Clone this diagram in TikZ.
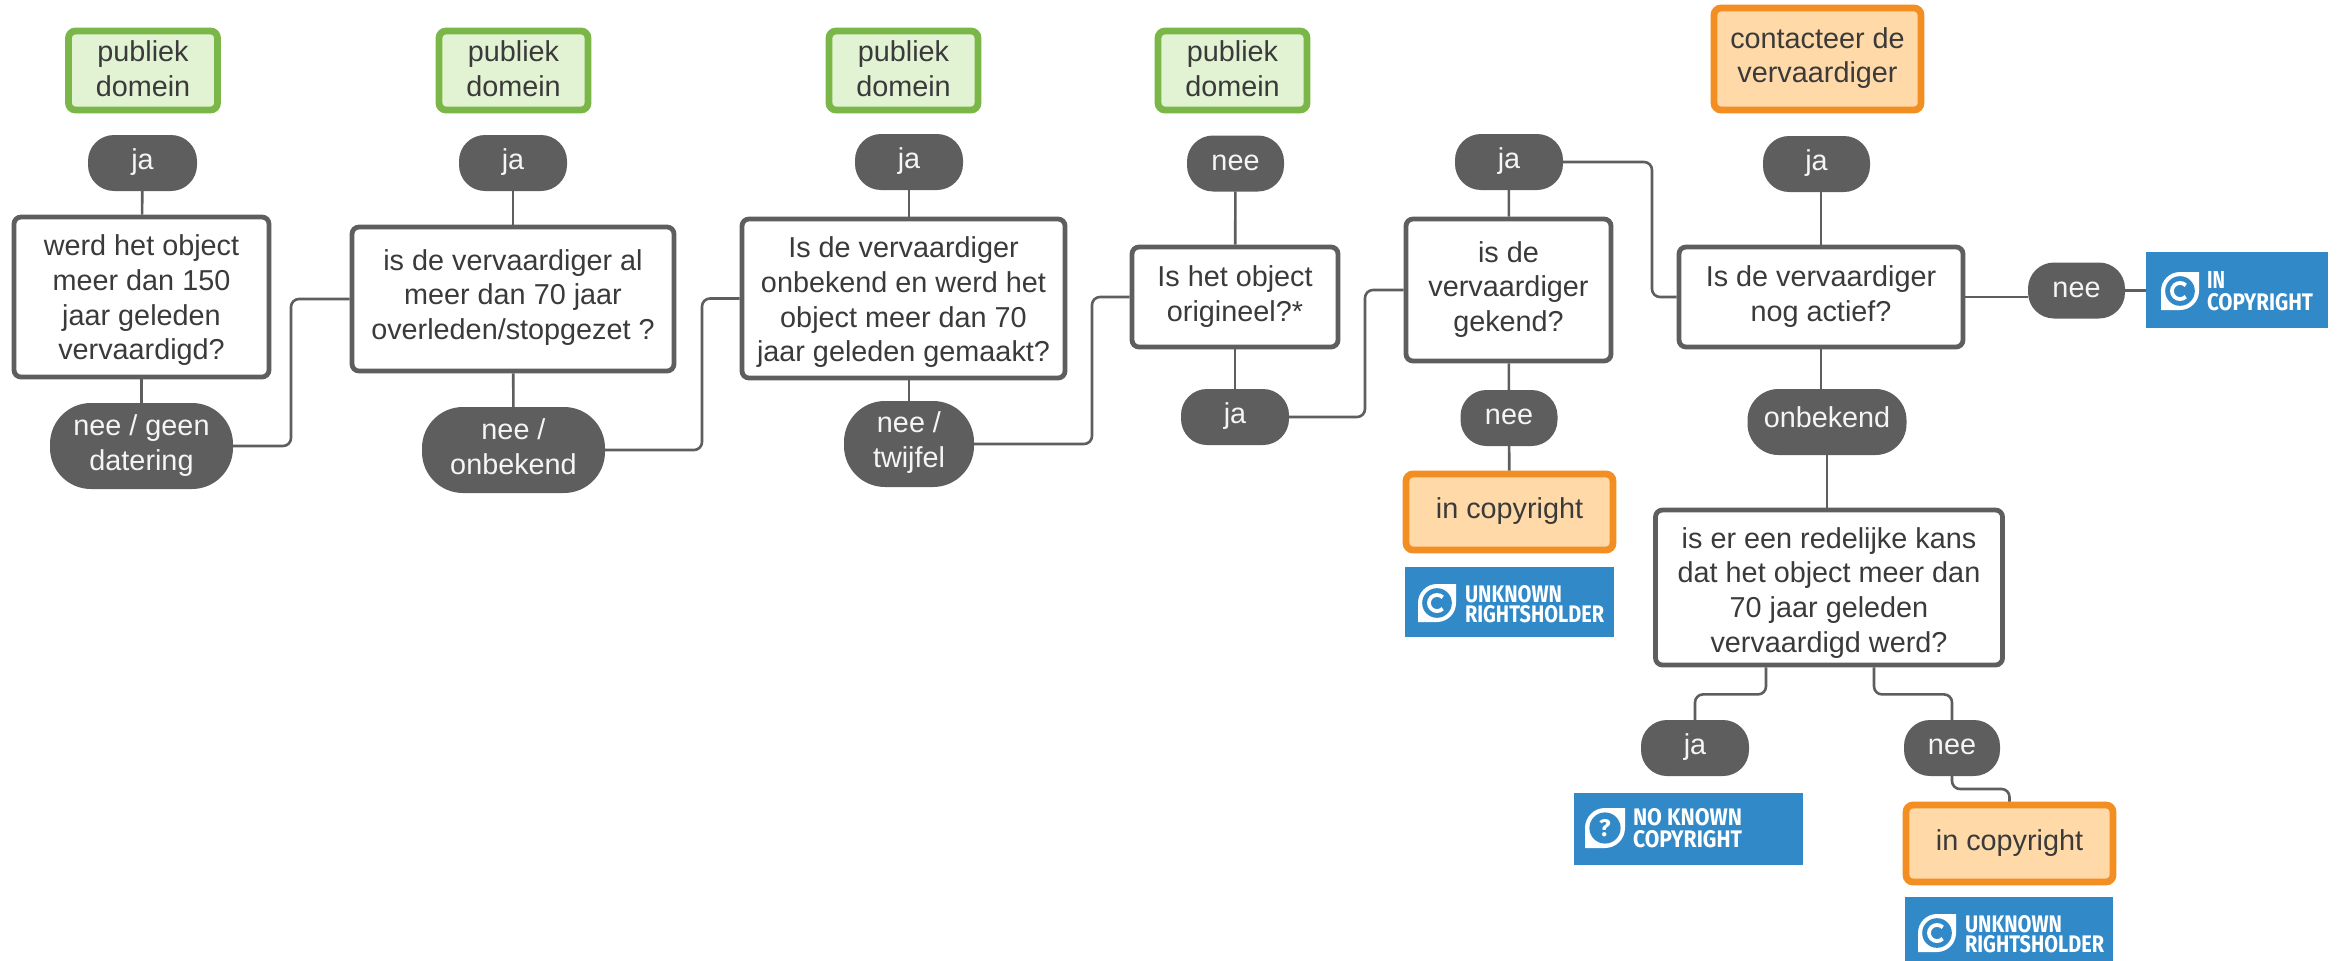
\documentclass[tikz,border=0pt]{standalone}
\usepackage{fontspec}
\usepackage{graphicx}
\setmainfont{Liberation Sans}
\newfontfamily\logofont{Fira Sans}
\definecolor{linegrey}{HTML}{5E5E5E}
\definecolor{txtgrey}{HTML}{3A3A3A}
\definecolor{pubgreen}{HTML}{7AB648}
\definecolor{pubfill}{HTML}{E2F3D3}
\definecolor{warnorange}{HTML}{F28E22}
\definecolor{warnfill}{HTML}{FFD9A8}
\definecolor{rsblue}{HTML}{3289C8}
\newcommand\tx[2]{\raisebox{\dimexpr#1pt-9pt\relax}[0pt][0pt]{\begin{tabular}{@{}c@{}}#2\end{tabular}}}
% white tag-shaped icon with a blue disc; #1,#2 = top-left, #3 = size, #4 = disc content
\newcommand\rsicon[4]{%
  \begin{scope}[shift={(#1,#2)}]
    \fill[white] (0,#3) -- (0,{#3/2}) arc[start angle=180,end angle=270,radius={#3/2}] -- (#3,0) -- (#3,{#3/2}) arc[start angle=0,end angle=90,radius={#3/2}] -- cycle;
    \fill[rsblue] ({#3/2},{#3/2}) circle[radius={0.39*#3}];
    #4
  \end{scope}}
\newcommand\rsc[1]{\draw[white,line width={0.1*#1}] ({#1/2+0.15*#1},{#1/2+0.15*#1}) arc[start angle=45,end angle=315,radius={0.212*#1}];}
\newcommand\rstext[6]{\node[rslabel] (#1) at (#2,#3) {\resizebox{#4pt}{#5pt}{\logofont\bfseries #6}};}
\tikzset{
  basefont/.style={font=\fontsize{28.8}{34.6}\selectfont},
  qbox/.style={basefont,draw=linegrey,fill=white,line width=4.8pt,rounded corners=7pt,text=txtgrey,inner sep=0pt},
  pubbox/.style={basefont,draw=pubgreen,fill=pubfill,line width=6.8pt,rounded corners=7pt,text=txtgrey,inner sep=0pt,minimum width=149pt,minimum height=79pt},
  warnbox/.style={basefont,draw=warnorange,fill=warnfill,line width=6.8pt,rounded corners=7pt,text=txtgrey,inner sep=0pt},
  pill/.style={basefont,fill=linegrey,text=white!96!black,rounded corners=26pt,inner sep=0pt,outer sep=0pt,minimum height=56pt},
  bigpill/.style={basefont,fill=linegrey,text=white!96!black,rounded corners=41pt,inner sep=0pt,outer sep=0pt,minimum height=86pt},
  badge/.style={fill=rsblue,inner sep=0pt,outer sep=0pt},
  rslabel/.style={anchor=north west,inner sep=0pt,outer sep=0pt,text=white},
  conn/.style={draw=linegrey,line width=2.6pt,rounded corners=8pt},
}
\begin{document}
\begin{tikzpicture}[x=1pt,y=-1pt]
\useasboundingbox (0,0) rectangle (2346,961);
% result boxes
\node[pubbox] (pub1) at (143,70.5) {\tx{1}{publiek\\domein}};
\node[pubbox] (pub2) at (513.5,70.5) {\tx{1}{publiek\\domein}};
\node[pubbox] (pub3) at (903.5,70.5) {\tx{1}{publiek\\domein}};
\node[pubbox] (pub4) at (1232.5,70.5) {\tx{1}{publiek\\domein}};
\node[warnbox,minimum width=207pt,minimum height=102pt] (contact) at (1817.5,59) {\tx{3}{contacteer de\\vervaardiger}};
% questions
\node[qbox,minimum width=255pt,minimum height=160pt] (q1) at (141.5,297) {\tx{-1}{werd het object\\meer dan 150\\jaar geleden\\vervaardigd?}};
\node[qbox,minimum width=322pt,minimum height=144pt] (q2) at (513,299) {\tx{4}{is de vervaardiger al\\meer dan 70 jaar\\overleden/stopgezet ?}};
\node[qbox,minimum width=323pt,minimum height=159pt] (q3) at (903.5,298.5) {\tx{-1.5}{Is de vervaardiger\\onbekend en werd het\\object meer dan 70\\jaar geleden gemaakt?}};
\node[qbox,minimum width=206pt,minimum height=100pt] (q4) at (1235,297) {\tx{3}{Is het object\\origineel?*}};
\node[qbox,minimum width=205pt,minimum height=142pt] (q5) at (1508.5,290) {\tx{3}{is de\\vervaardiger\\gekend?}};
\node[qbox,minimum width=284pt,minimum height=100pt] (q7) at (1821,297) {\tx{3}{Is de vervaardiger\\nog actief?}};
\node[qbox,minimum width=347pt,minimum height=155pt] (q6) at (1829,587.5) {\tx{-3}{is er een redelijke kans\\dat het object meer dan\\70 jaar geleden\\vervaardigd werd?}};
% answers
\node[pill,minimum width=109pt] (ja1) at (142.5,163) {\tx{3}{ja}};
\node[bigpill,minimum width=183pt] (nee1) at (141.5,446) {\tx{3}{nee / geen\\datering}};
\node[pill,minimum width=108pt] (ja2) at (513,163) {\tx{3}{ja}};
\node[bigpill,minimum width=183pt] (nee2) at (513.5,450) {\tx{3}{nee /\\onbekend}};
\node[pill,minimum width=108pt] (ja3) at (909,162) {\tx{3}{ja}};
\node[bigpill,minimum width=130pt] (nee3) at (909,444) {\tx{4}{nee /\\twijfel}};
\node[pill,minimum width=97pt] (nee4) at (1235.5,163.5) {\tx{3}{nee}};
\node[pill,minimum width=108pt] (ja4) at (1235,417) {\tx{3}{ja}};
\node[pill,minimum width=108pt] (ja5) at (1509,162) {\tx{3}{ja}};
\node[pill,minimum width=97pt] (nee5) at (1509,418) {\tx{3}{nee}};
\node[pill,minimum width=107pt] (ja7) at (1816.5,164) {\tx{3}{ja}};
\node[pill,minimum width=159pt,minimum height=66pt,rounded corners=31pt] (onb) at (1827,422) {\tx{4}{onbekend}};
\node[pill,minimum width=97pt] (nee7) at (2076.5,290.5) {\tx{3}{nee}};
\node[pill,minimum width=108pt] (ja6) at (1695,748) {\tx{3}{ja}};
\node[pill,minimum width=96pt] (nee6) at (1952,748) {\tx{3}{nee}};
% outcomes
\node[warnbox,minimum width=207pt,minimum height=76pt] (inc1) at (1509.5,512) {\tx{3}{in copyright}};
\node[warnbox,minimum width=207pt,minimum height=77pt] (inc2) at (2009.5,843.5) {\tx{3}{in copyright}};
% rights statement badges
\node[badge,minimum width=182pt,minimum height=76pt] (badgeIC) at (2237,290) {};
\rsicon{2161}{272}{38}{\rsc{38}}
\rstext{badgeICa}{2207}{271}{18}{17}{IN}
\rstext{badgeICb}{2207}{293}{106}{17}{COPYRIGHT}
\node[badge,minimum width=209pt,minimum height=70pt] (badgeUR1) at (1509.5,602) {};
\rsicon{1418}{584}{38}{\rsc{38}}
\rstext{badgeURa}{1465}{585}{97}{17}{UNKNOWN}
\rstext{badgeURb}{1465}{605}{139}{17}{RIGHTSHOLDER}
\node[badge,minimum width=208pt,minimum height=64pt] (badgeUR2) at (2009,929) {};
\rsicon{1918}{914}{38}{\rsc{38}}
\rstext{badgeUSa}{1965}{915}{97}{17}{UNKNOWN}
\rstext{badgeUSb}{1965}{935}{139}{17}{RIGHTSHOLDER}
\node[badge,minimum width=229pt,minimum height=72pt] (badgeNK) at (1688.5,829) {};
\rsicon{1585}{808}{40}{\node[text=white,font=\logofont\bfseries\fontsize{24}{24}\selectfont,inner sep=0pt] (badgeNKq) at (20,20) {?};}
\rstext{badgeNKa}{1633}{808}{109}{17}{NO KNOWN}
\rstext{badgeNKb}{1633}{830}{109}{17}{COPYRIGHT}
% connectors
\draw[conn] (ja1) -- (q1);
\draw[conn] (q1) -- (nee1);
\draw[conn] (nee1.east) -- ++(58,0) |- (q2.west);
\draw[conn] (ja2) -- (q2);
\draw[conn] (q2) -- (nee2);
\draw[conn] (nee2.east) -- ++(97,0) |- (q3.west);
\draw[conn] (ja3.south) -- (ja3.south |- q3.north);
\draw[conn] (nee3.north |- q3.south) -- (nee3.north);
\draw[conn] (nee3.east) -- ++(118,0) |- (q4.west);
\draw[conn] (nee4) -- (q4);
\draw[conn] (q4) -- (ja4);
\draw[conn] (ja4.east) -- ++(76,0) |- (q5.west);
\draw[conn] (ja5) -- (q5);
\draw[conn] (q5) -- (nee5);
\draw[conn] (nee5) -- (inc1);
\draw[conn] (ja5.east) -- ++(89,0) |- (q7.west);
\draw[conn] (q7.north |- ja7.south) -- (q7.north);
\draw[conn] (q7.south) -- (q7.south |- onb.north);
\draw[conn] (onb.south) -- (onb.south |- q6.north);
\draw[conn] (q7.east) -- (q7.east -| nee7.west);
\draw[conn] (nee7.east) -- (nee7.east -| badgeIC.west);
\draw[conn] ([xshift=-63pt]q6.south) -- ++(0,27) -| (ja6.north);
\draw[conn] ([xshift=45pt]q6.south) -- ++(0,27) -| (nee6.north);
\draw[conn] (nee6.south) -- ++(0,13) -| (inc2.north);
\end{tikzpicture}
\end{document}
